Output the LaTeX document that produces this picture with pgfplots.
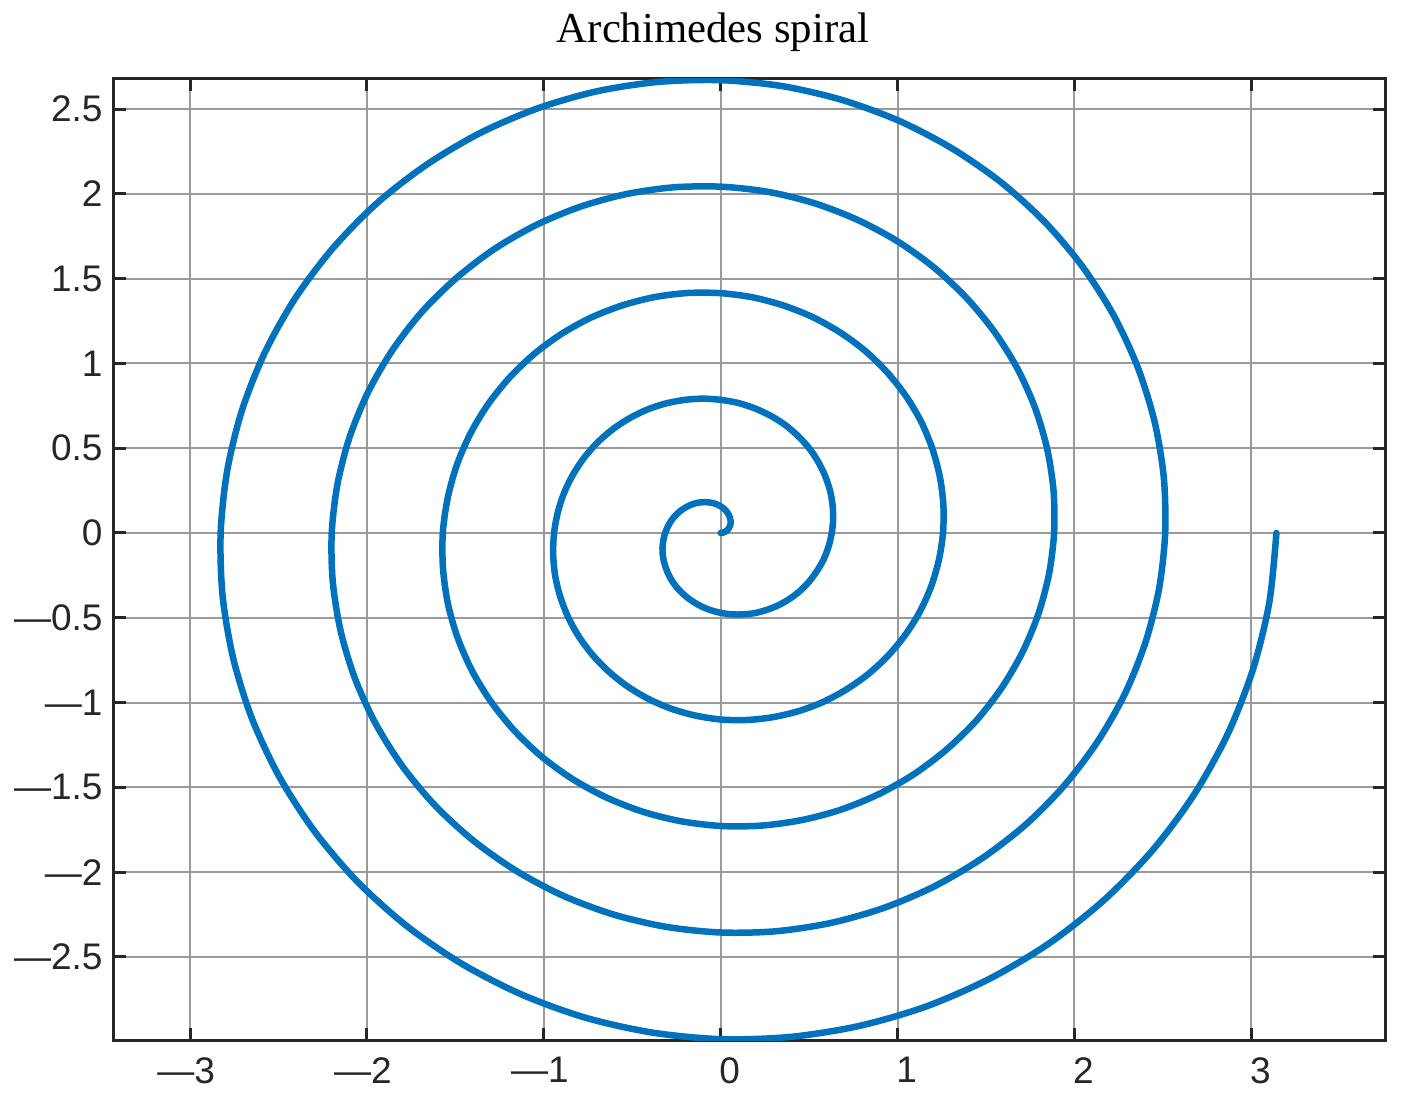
\documentclass[border=0pt]{standalone}
\usepackage{fontspec}
\setmainfont{Liberation Serif}
\newfontfamily\ticksans{Liberation Sans}
\usepackage{pgfplots}
\pgfplotsset{compat=1.18}
\definecolor{mblue}{HTML}{0072BD}
\definecolor{axgray}{HTML}{262626}
\definecolor{gridgray}{HTML}{9A9A9A}
\newcommand{\neglab}[1]{\hspace*{-3.2pt}\textemdash#1}
\newcommand{\poslab}[1]{\hspace*{7.2pt}#1}

\begin{document}
\begin{tikzpicture}
\begin{axis}[
  scale only axis,
  width=508.4pt, height=384.4pt,
  xmin=-3.43, xmax=3.756,
  ymin=-2.99, ymax=2.677,
  xtick={-3,-2,-1,0,1,2,3},
  xticklabels={\neglab{3},\neglab{2},\neglab{1},\poslab{0},\poslab{1},\poslab{2},\poslab{3}},
  ytick={-2.5,-2,-1.5,-1,-0.5,0,0.5,1,1.5,2,2.5},
  yticklabels={\textemdash2.5,\textemdash2,\textemdash1.5,\textemdash1,\textemdash0.5,0,0.5,1,1.5,2,2.5},
  tick align=inside,
  major tick length=5pt,
  every tick/.style={axgray, line width=1.2pt},
  axis line style={axgray, line width=1.2pt},
  grid=major,
  major grid style={gridgray, line width=0.8pt},
  ticklabel style={font=\ticksans\fontsize{14.8}{17}\selectfont, text=axgray, inner sep=0pt},
  xticklabel style={anchor=north, yshift=-6.8pt},
  yticklabel style={anchor=east, xshift=-4.4pt},
]
\coordinate (bl) at (rel axis cs:0,0);
\coordinate (tr) at (rel axis cs:1,1);
\coordinate (tc) at (rel axis cs:0.5,1);
% r = theta/10, theta from 0 to 10 pi, sampled every 7.5 degrees
\addplot[mblue, line width=2.6pt, smooth, line join=round, line cap=round] coordinates {
(0,0) (0.013,0.002) (0.025,0.007) (0.036,0.015) (0.045,0.026) (0.052,0.040)
(0.056,0.056) (0.056,0.073) (0.052,0.091) (0.045,0.109) (0.034,0.126) (0.019,0.143)
(0,0.157) (-0.022,0.169) (-0.047,0.177) (-0.075,0.181) (-0.105,0.181) (-0.135,0.177)
(-0.167,0.167) (-0.197,0.151) (-0.227,0.131) (-0.254,0.105) (-0.278,0.075) (-0.298,0.039)
(-0.314,0) (-0.324,-0.043) (-0.329,-0.088) (-0.327,-0.135) (-0.317,-0.183) (-0.301,-0.231)
(-0.278,-0.278) (-0.247,-0.322) (-0.209,-0.363) (-0.165,-0.399) (-0.115,-0.430) (-0.060,-0.454)
(0,-0.471) (0.063,-0.480) (0.129,-0.480) (0.195,-0.472) (0.262,-0.453) (0.327,-0.426)
(0.389,-0.389) (0.447,-0.343) (0.499,-0.288) (0.544,-0.225) (0.582,-0.156) (0.610,-0.080)
(0.628,0) (0.636,0.084) (0.632,0.169) (0.617,0.255) (0.589,0.340) (0.550,0.422)
(0.500,0.500) (0.438,0.571) (0.367,0.635) (0.286,0.689) (0.197,0.733) (0.101,0.766)
(0,0.785) (-0.104,0.792) (-0.210,0.784) (-0.316,0.762) (-0.419,0.726) (-0.518,0.675)
(-0.611,0.611) (-0.696,0.534) (-0.771,0.445) (-0.834,0.346) (-0.885,0.237) (-0.921,0.121)
(-0.942,0) (-0.947,-0.125) (-0.936,-0.251) (-0.907,-0.376) (-0.862,-0.497) (-0.800,-0.614)
(-0.722,-0.722) (-0.630,-0.820) (-0.524,-0.907) (-0.406,-0.980) (-0.278,-1.037) (-0.142,-1.077)
(0,-1.100) (0.145,-1.103) (0.291,-1.087) (0.436,-1.052) (0.576,-0.998) (0.709,-0.924)
(0.833,-0.833) (0.945,-0.725) (1.043,-0.602) (1.125,-0.466) (1.189,-0.318) (1.233,-0.162)
(1.257,0) (1.259,0.166) (1.239,0.332) (1.197,0.496) (1.134,0.655) (1.049,0.805)
(0.944,0.944) (0.821,1.070) (0.681,1.179) (0.526,1.270) (0.359,1.340) (0.183,1.389)
(0,1.414) (-0.186,1.415) (-0.373,1.391) (-0.556,1.342) (-0.733,1.270) (-0.900,1.174)
(-1.055,1.055) (-1.194,0.916) (-1.315,0.759) (-1.415,0.586) (-1.492,0.400) (-1.544,0.203)
(-1.571,0) (-1.570,-0.207) (-1.543,-0.413) (-1.488,-0.616) (-1.406,-0.812) (-1.298,-0.996)
(-1.166,-1.166) (-1.012,-1.319) (-0.838,-1.451) (-0.646,-1.560) (-0.440,-1.644) (-0.224,-1.700)
(0,-1.728) (0.227,-1.726) (0.454,-1.694) (0.676,-1.633) (0.890,-1.542) (1.092,-1.423)
(1.277,-1.277) (1.444,-1.108) (1.587,-0.916) (1.705,-0.706) (1.795,-0.481) (1.856,-0.244)
(1.885,0) (1.882,0.248) (1.846,0.495) (1.778,0.736) (1.678,0.969) (1.547,1.187)
(1.388,1.388) (1.203,1.568) (0.995,1.723) (0.766,1.850) (0.522,1.947) (0.265,2.012)
(0,2.042) (-0.268,2.038) (-0.535,1.998) (-0.796,1.923) (-1.047,1.814) (-1.283,1.672)
(-1.499,1.499) (-1.693,1.299) (-1.859,1.073) (-1.995,0.827) (-2.099,0.562) (-2.167,0.285)
(-2.199,0) (-2.193,-0.289) (-2.149,-0.576) (-2.068,-0.857) (-1.950,-1.126) (-1.797,-1.379)
(-1.611,-1.611) (-1.395,-1.817) (-1.152,-1.995) (-0.887,-2.141) (-0.603,-2.251) (-0.306,-2.323)
(0,-2.356) (0.309,-2.349) (0.617,-2.301) (0.917,-2.213) (1.204,-2.086) (1.474,-1.921)
(1.722,-1.722) (1.942,-1.490) (2.131,-1.230) (2.286,-0.947) (2.402,-0.644) (2.479,-0.326)
(2.513,0) (2.505,0.330) (2.453,0.657) (2.358,0.977) (2.222,1.283) (2.046,1.570)
(1.833,1.833) (1.586,2.067) (1.309,2.267) (1.007,2.431) (0.684,2.554) (0.347,2.635)
(0,2.670) (-0.350,2.660) (-0.698,2.605) (-1.037,2.503) (-1.361,2.358) (-1.665,2.170)
(-1.944,1.944) (-2.191,1.681) (-2.403,1.388) (-2.576,1.067) (-2.706,0.725) (-2.790,0.367)
(-2.827,0) (-2.816,-0.371) (-2.756,-0.739) (-2.649,-1.097) (-2.494,-1.440) (-2.295,-1.761)
(-2.055,-2.055) (-1.777,-2.316) (-1.466,-2.539) (-1.127,-2.721) (-0.766,-2.858) (-0.388,-2.946)
(0,-2.985) (0.391,-2.972) (0.779,-2.908) (1.157,-2.794) (1.518,-2.630) (1.857,-2.420)
(2.166,-2.166) (2.440,-1.873) (2.675,-1.545) (2.866,-1.187) (3.009,-0.806) (3.102,-0.408)
(3.142,0)
};
\end{axis}
\node[font=\fontsize{17.1}{20}\selectfont, anchor=base, inner sep=0pt] at ([xshift=-14.6pt,yshift=14.4pt]tc) {Archimedes spiral};
\pgfresetboundingbox
\path[use as bounding box] ([shift={(-45.6pt,-23.6pt)}]bl) rectangle ([shift={(10pt,31.6pt)}]tr);
\end{tikzpicture}
\end{document}
